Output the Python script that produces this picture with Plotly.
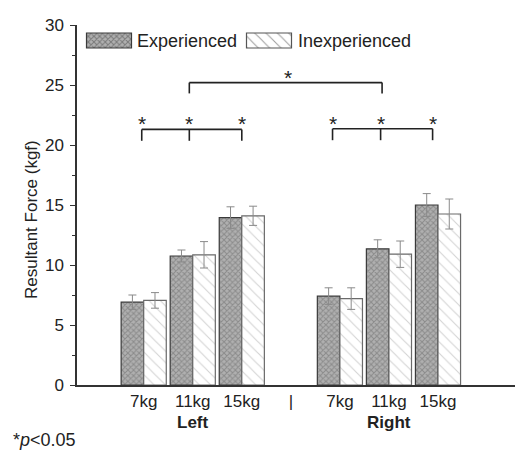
import plotly.graph_objects as go

# Resultant force (kgf) per load, left then right hand
tick_labels = ["7kg", "11kg", "15kg", "|", "7kg", "11kg", "15kg"]
positions = [0, 1, 2, 4, 5, 6]
exp_mean = [6.9, 10.75, 13.95, 7.4, 11.35, 15.0]
exp_err = [0.6, 0.5, 0.9, 0.7, 0.75, 0.95]
inexp_mean = [7.05, 10.85, 14.1, 7.2, 10.9, 14.25]
inexp_err = [0.65, 1.1, 0.8, 0.9, 1.1, 1.25]
group_labels = ["Left", "Right"]
group_centers = [1, 5]

FONT = "Liberation Sans, Arial, sans-serif"
TXT = "#222222"

exp_pattern = dict(shape="x", bgcolor="#b0b0b0", fgcolor="#666666",
                   size=4, solidity=0.45)
inexp_pattern = dict(shape="\\", bgcolor="#ffffff", fgcolor="#a8a8a8",
                     size=8, solidity=0.14)

fig = go.Figure()
fig.add_trace(go.Bar(
    x=positions, y=exp_mean, name="Experienced",
    marker=dict(color="#b0b0b0", pattern=exp_pattern,
                line=dict(color="#3a3a3a", width=1.2)),
    error_y=dict(type="data", array=exp_err, color="#8a8a8a",
                 thickness=1, width=4),
    showlegend=False,
))
fig.add_trace(go.Bar(
    x=positions, y=inexp_mean, name="Inexperienced",
    marker=dict(color="#ffffff", pattern=inexp_pattern,
                line=dict(color="#6a6a6a", width=1.2)),
    error_y=dict(type="data", array=inexp_err, color="#8a8a8a",
                 thickness=1, width=4),
    showlegend=False,
))

# Legend swatches drawn on an overlay axis measured in pixels
fig.add_trace(go.Bar(
    x=[32, 192], y=[15, 15], base=[337, 337], width=[45, 45],
    xaxis="x2", yaxis="y2", showlegend=False, hoverinfo="skip",
    marker=dict(color=["#b0b0b0", "#ffffff"],
                pattern=dict(shape=["x", "\\"],
                             bgcolor=["#b0b0b0", "#ffffff"],
                             fgcolor=["#666666", "#a8a8a8"],
                             size=[4, 8], solidity=[0.45, 0.14]),
                line=dict(color=["#3a3a3a", "#555555"], width=1.2)),
))

annotations = [
    dict(x=58, y=344.5, xref="x2", yref="y2", text="Experienced",
         showarrow=False, xanchor="left", font=dict(size=18, color=TXT)),
    dict(x=219, y=344.5, xref="x2", yref="y2", text="Inexperienced",
         showarrow=False, xanchor="left", font=dict(size=18, color=TXT)),
    dict(x=0, y=0, xref="paper", yref="paper", xanchor="left",
         yanchor="middle", xshift=-66, yshift=-55, showarrow=False,
         text="*<i>p</i><0.05", font=dict(size=18, color=TXT)),
    # y-axis title
    dict(x=0, y=0.5, xref="paper", yref="paper", xshift=-46, yshift=-15,
         textangle=-90, showarrow=False, xanchor="center", yanchor="middle",
         text="Resultant Force (kgf)", font=dict(size=17, color=TXT)),
]
for lab, cx in zip(group_labels, group_centers):
    annotations.append(dict(
        x=cx, y=0, xref="x", yref="paper", yshift=-37, text=f"<b>{lab}</b>",
        showarrow=False, font=dict(size=17, color=TXT), yanchor="middle",
    ))

# Significance brackets
shapes = []
line_style = dict(color="#222222", width=1.6)
brackets = [
    # (x points, horizontal level, drop level)
    ([0.93, 4.86], 25.2, 24.3),
    ([-0.04, 0.93, 2.0], 21.3, 20.35),
    ([3.85, 4.83, 5.89], 21.35, 20.4),
]
for xs, top, low in brackets:
    shapes.append(dict(type="line", xref="x", yref="y", x0=xs[0], x1=xs[-1],
                       y0=top, y1=top, line=line_style))
    for xv in xs:
        shapes.append(dict(type="line", xref="x", yref="y", x0=xv, x1=xv,
                           y0=top, y1=low, line=line_style))
stars = [(2.95, 25.2)] + [(xv, 21.3) for xv in brackets[1][0]] + \
        [(xv, 21.35) for xv in brackets[2][0]]
for sx, sy in stars:
    annotations.append(dict(x=sx, y=sy, xref="x", yref="y", text="*",
                            showarrow=False, yanchor="bottom", yshift=-8,
                            font=dict(size=21, color=TXT)))

fig.update_layout(
    width=516, height=450,
    margin=dict(l=77, r=1, t=25, b=65),
    paper_bgcolor="white", plot_bgcolor="white",
    barmode="group", bargap=0.08, bargroupgap=0,
    font=dict(family=FONT, size=17, color=TXT),
    xaxis=dict(range=[-1.36, 7.57], tickmode="array", tickvals=list(range(7)),
               ticktext=tick_labels, showline=True, linecolor="#333333",
               linewidth=1.5, ticks="", showgrid=False, zeroline=False,
               tickfont=dict(size=17, color=TXT)),
    yaxis=dict(range=[0, 30], tickmode="linear", tick0=0, dtick=5,
               showline=True, linecolor="#333333", linewidth=1.5,
               ticks="outside", ticklen=5, tickcolor="#333333",
               ticklabelstandoff=3,
               minor=dict(dtick=2.5, ticks="outside", ticklen=3,
                          tickcolor="#333333"),
               showgrid=False, zeroline=False,
               tickfont=dict(size=17, color=TXT)),
    xaxis2=dict(range=[0, 438], overlaying="x", visible=False,
                fixedrange=True),
    yaxis2=dict(range=[0, 360], overlaying="y", visible=False,
                fixedrange=True),
    shapes=shapes,
    annotations=annotations,
)

fig.write_html("out.html", config={"displayModeBar": False})
